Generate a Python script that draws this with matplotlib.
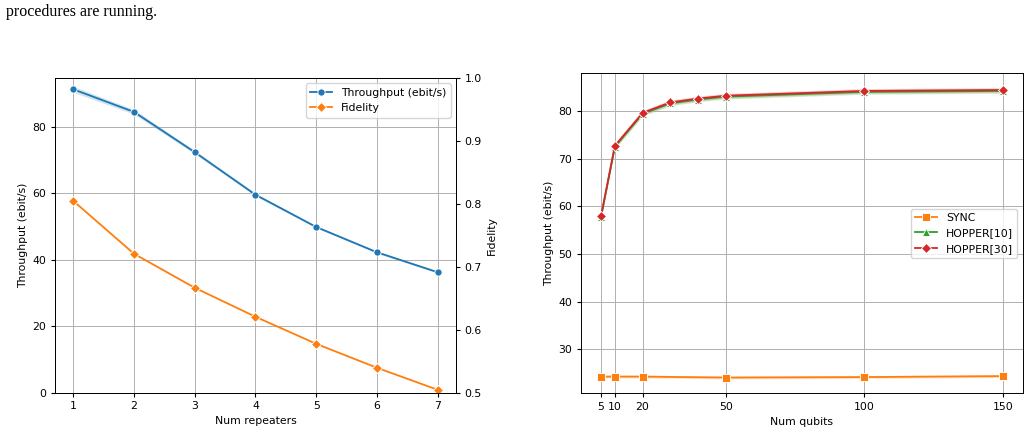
import matplotlib.pyplot as plt
import numpy as np

# left panel: repeaters
repeaters = np.array([1, 2, 3, 4, 5, 6, 7])
throughput = np.array([91.3, 84.5, 72.4, 59.6, 49.9, 42.3, 36.3])
throughput_ci = np.array([0.9, 0.7, 0.5, 0.4, 0.3, 0.3, 0.3])
fidelity = np.array([0.805, 0.721, 0.667, 0.621, 0.578, 0.540, 0.505])

# right panel: qubits
qubits_sync = np.array([5, 10, 20, 50, 100, 150])
sync = np.array([24.3, 24.3, 24.3, 24.1, 24.2, 24.4])
sync_ci = np.array([0.3, 0.3, 0.3, 0.3, 0.3, 0.3])
qubits_hop = np.array([5, 10, 20, 30, 40, 50, 100, 150])
hopper10 = np.array([57.8, 72.5, 79.4, 81.6, 82.4, 83.0, 84.0, 84.2])
hopper30 = np.array([57.9, 72.7, 79.6, 81.8, 82.6, 83.2, 84.2, 84.4])
hopper_ci = np.array([0.4, 0.5, 0.5, 0.5, 0.5, 0.5, 0.5, 0.5])
qubit_ticks = [5, 10, 20, 50, 100, 150]

s = 0.87  # figure was scaled down
plt.rcParams.update({
    'font.size': 9 * s,
    'lines.linewidth': 1.5 * s,
    'axes.linewidth': 0.8 * s,
    'xtick.major.size': 3.5 * s, 'ytick.major.size': 3.5 * s,
    'xtick.major.pad': 3.5 * s, 'ytick.major.pad': 3.5 * s,
    'axes.labelpad': 4.0 * s,
})
blue, orange, green, red = '#1f77b4', '#ff7f0e', '#2ca02c', '#d62728'
mk = dict(markersize=6 * s, markeredgecolor='white', markeredgewidth=0.75 * s)
mkd = dict(markersize=5.4 * s, markeredgecolor='white', markeredgewidth=0.75 * s)

fig = plt.figure(figsize=(10.3, 4.33), dpi=100)
fig.text(0.006, 0.973, 'procedures are running.', family='Liberation Serif',
         fontsize=11.5, va='center')

# ---- left
ax1 = fig.add_axes([0.0534, 0.0924, 0.3893, 0.7275])
ax1.fill_between(repeaters, throughput - throughput_ci, throughput + throughput_ci,
                 color=blue, alpha=0.2, lw=0)
l1, = ax1.plot(repeaters, throughput, color=blue, marker='o', label='Throughput (ebit/s)', **mk)
ax1.set_ylim(0, 94.7)
ax1.set_xlim(0.7, 7.3)
ax1.set_xticks(repeaters)
ax1.set_yticks([0, 20, 40, 60, 80])
ax1.grid(True, color='#b0b0b0', lw=0.8 * s)
ax1.set_xlabel('Num repeaters')
ax1.set_ylabel('Throughput (ebit/s)')

ax2 = ax1.twinx()
l2, = ax2.plot(repeaters, fidelity, color=orange, marker='D', label='Fidelity', **mkd)
ax2.set_ylim(0.5, 1.0)
ax2.set_yticks([0.5, 0.6, 0.7, 0.8, 0.9, 1.0])
ax2.set_ylabel('Fidelity')
ax1.legend([l1, l2], [l1.get_label(), l2.get_label()], loc='upper right')

# ---- right
ax3 = fig.add_axes([0.564, 0.0917, 0.429, 0.739])
ax3.fill_between(qubits_sync, sync - sync_ci, sync + sync_ci, color=orange, alpha=0.2, lw=0)
ax3.fill_between(qubits_hop, hopper10 - hopper_ci, hopper10 + hopper_ci, color=green, alpha=0.2, lw=0)
ax3.fill_between(qubits_hop, hopper30 - hopper_ci, hopper30 + hopper_ci, color=red, alpha=0.2, lw=0)
ax3.plot(qubits_sync, sync, color=orange, marker='s', label='SYNC', **mk)
ax3.plot(qubits_hop, hopper10, color=green, marker='^', label='HOPPER[10]', **mk)
ax3.plot(qubits_hop, hopper30, color=red, marker='D', label='HOPPER[30]', **mkd)
ax3.set_xticks(qubit_ticks)
ax3.set_yticks([30, 40, 50, 60, 70, 80])
ax3.set_ylim(20.8, 87.9)
ax3.grid(True, color='#b0b0b0', lw=0.8 * s)
ax3.set_xlabel('Num qubits')
ax3.set_ylabel('Throughput (ebit/s)')
ax3.legend(loc='center right')

fig.savefig('out.png', dpi=100)
